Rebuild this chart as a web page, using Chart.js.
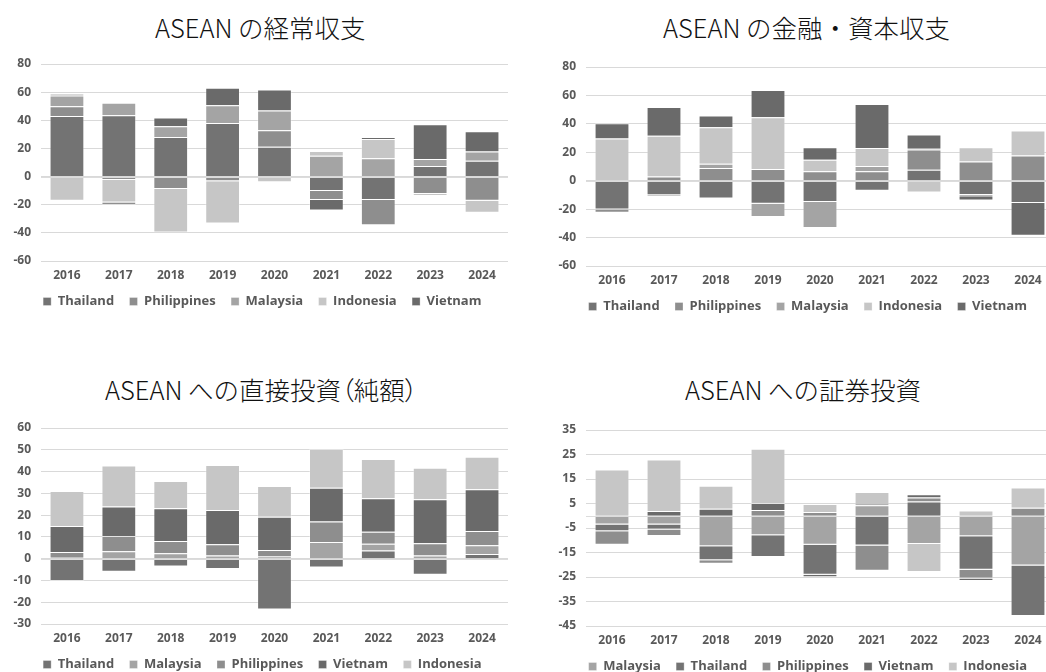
<!DOCTYPE html>
<html>
<head>
    <title>ASEAN 国際収支</title>
    <script src="https://cdn.jsdelivr.net/npm/chart.js"></script>
    <style>
        body {
            margin: 0;
            background: #fff;
            width: 1046px;
            height: 672px;
            overflow: hidden;
            position: relative;
        }
        .panel {
            position: absolute;
        }
        .title {
            position: absolute;
            font-family: "Noto Sans CJK JP", sans-serif;
            font-weight: 300;
            font-size: 25.5px;
            line-height: 30px;
            color: #111;
            white-space: nowrap;
        }
        .paren {
            font-feature-settings: "palt";
        }
    </style>
</head>
<body>
    <div class="title" style="left:155px; top:12px;">ASEAN の経常収支</div>
    <div class="title" style="left:663px; top:12px;">ASEAN の金融・資本収支</div>
    <div class="title" style="left:105px; top:374px;">ASEAN への直接投資<span class="paren">（</span>純額<span class="paren">）</span></div>
    <div class="title" style="left:685px; top:374px;">ASEAN への証券投資</div>

    <div class="panel" style="left:0; top:0;"><canvas id="caChart" width="520" height="318"></canvas></div>
    <div class="panel" style="left:545px; top:0;"><canvas id="faChart" width="521" height="323"></canvas></div>
    <div class="panel" style="left:0; top:360px;"><canvas id="fdiChart" width="520" height="321"></canvas></div>
    <div class="panel" style="left:545px; top:360px;"><canvas id="piChart" width="521" height="323"></canvas></div>

    <script>
        const years = ["2016", "2017", "2018", "2019", "2020", "2021", "2022", "2023", "2024"];

        // 経常収支
        const caThailand    = [43.1, 43.6, 28.1, 38.1, 21.2, -10.2, -16.7, 7.6, 11.2];
        const caPhilippines = [6.9, -2.4, -8.8, -3.3, 11.7, -6.4, -17.9, -12.4, -17.1];
        const caMalaysia    = [7.6, 8.8, 7.6, 12.6, 14.0, 14.8, 13.1, 4.8, 6.7];
        const caIndonesia   = [-17.1, -16.0, -31.0, -30.0, -4.0, 3.3, 13.6, -1.4, -8.6];
        const caVietnam     = [1.0, -1.7, 6.2, 12.4, 15.0, -7.6, 1.4, 24.8, 14.3];

        // 金融・資本収支
        const faThailand    = [-20.2, -10.2, -12.6, -16.2, -15.0, -7.1, 7.8, -10.0, -15.7];
        const faPhilippines = [-2.4, 2.9, 9.0, 8.3, 6.7, 6.7, 14.2, 13.5, 17.8];
        const faMalaysia    = [0, -1.0, 2.9, -9.3, -18.3, 3.6, 0.5, -1.0, 0];
        const faIndonesia   = [29.7, 28.7, 25.7, 36.3, 8.1, 12.8, -8.3, 10.0, 17.6];
        const faVietnam     = [10.7, 20.2, 8.3, 19.2, 8.8, 30.9, 10.0, -3.0, -23.0];

        // 直接投資（純額）
        const fdiThailand    = [-10.2, -6.0, -3.6, -4.8, -23.3, -4.0, 3.7, -7.4, 2.2];
        const fdiMalaysia    = [0.4, 3.4, 2.5, 1.5, 1.0, 7.6, 3.1, 1.5, 4.0];
        const fdiPhilippines = [2.7, 7.0, 5.6, 5.1, 3.0, 9.5, 5.6, 5.6, 6.5];
        const fdiVietnam     = [11.9, 13.6, 15.0, 15.8, 15.3, 15.5, 15.3, 20.2, 19.2];
        const fdiIndonesia   = [16.1, 18.8, 12.6, 20.6, 14.1, 17.7, 18.1, 14.4, 14.9];

        // 証券投資
        const piMalaysia    = [-3.6, -3.6, -12.4, -8.0, -11.8, 4.3, -11.5, -8.4, -20.3];
        const piThailand    = [-2.7, -2.0, -5.8, -8.8, -12.3, -12.1, 5.8, -13.6, -20.6];
        const piPhilippines = [-5.5, -2.7, -1.4, 2.3, 1.5, -10.3, 1.6, -3.6, 3.3];
        const piVietnam     = [0, 1.9, 2.9, 2.9, -1.0, 0.5, 1.4, -1.0, 0];
        const piIndonesia   = [18.9, 21.1, 9.3, 22.1, 3.3, 4.9, -11.5, 2.1, 8.2];

        const colors = {
            Thailand: "#737373",
            Philippines: "#8e8e8e",
            Malaysia: "#a4a4a4",
            Indonesia: "#c6c6c6",
            Vietnam: "#6a6a6a"
        };

        const labelFont = { family: "'Open Sans', sans-serif", size: 12, weight: "bold" };
        const textColor = "#595959";

        function series(name, values) {
            return {
                label: name,
                data: values,
                backgroundColor: colors[name],
                borderColor: "rgba(255, 255, 255, 0.3)",
                borderWidth: 1,
                borderSkipped: "start"
            };
        }

        // axis line at 0, drawn over the bars
        const zeroLine = {
            id: "zeroLine",
            afterDatasetsDraw(chart) {
                const y = Math.round(chart.scales.y.getPixelForValue(0)) + 0.5;
                const area = chart.chartArea;
                const ctx = chart.ctx;
                ctx.save();
                ctx.strokeStyle = "#dcdcdc";
                ctx.lineWidth = 1;
                ctx.beginPath();
                ctx.moveTo(area.left, y);
                ctx.lineTo(area.right, y);
                ctx.stroke();
                ctx.restore();
            }
        };

        // nudge the legend row sideways so it centres under the plot rather than the canvas
        const legendShift = {
            id: "legendShift",
            afterLayout(chart, args, opts) {
                chart.legend.left += opts.dx;
                chart.legend.right += opts.dx;
            }
        };

        // a little extra room after each legend entry
        function spacedLabels(chart) {
            return Chart.defaults.plugins.legend.labels.generateLabels(chart).map(item => {
                item.text = item.text + "\u00a0";
                return item;
            });
        }

        function makeChart(id, datasets, yMin, yMax, yStep, plotTop) {
            return new Chart(document.getElementById(id), {
                type: "bar",
                data: { labels: years, datasets: datasets },
                options: {
                    responsive: false,
                    animation: false,
                    devicePixelRatio: 1,
                    layout: { padding: { left: 0, right: 12, top: plotTop, bottom: 0 } },
                    datasets: { bar: { barPercentage: 1, categoryPercentage: 0.67 } },
                    plugins: {
                        legend: {
                            position: "bottom",
                            labels: {
                                boxWidth: 8,
                                boxHeight: 8,
                                padding: 12,
                                color: textColor,
                                font: { family: "'Open Sans', sans-serif", size: 13, weight: "bold" },
                                generateLabels: spacedLabels
                            }
                        },
                        legendShift: { dx: 10 },
                        tooltip: { enabled: false }
                    },
                    scales: {
                        x: {
                            stacked: true,
                            afterFit(scale) { scale.height = 22; },
                            grid: { display: false, drawTicks: false },
                            border: { display: false },
                            ticks: { color: textColor, font: labelFont, padding: 7 }
                        },
                        y: {
                            stacked: true,
                            min: yMin,
                            max: yMax,
                            afterFit(scale) { scale.width = 41; },
                            grid: { color: "#d9d9d9", drawTicks: false },
                            border: { display: false },
                            ticks: { stepSize: yStep, color: textColor, font: labelFont, padding: 10 }
                        }
                    }
                },
                plugins: [zeroLine, legendShift]
            });
        }

        makeChart("caChart", [
            series("Thailand", caThailand),
            series("Philippines", caPhilippines),
            series("Malaysia", caMalaysia),
            series("Indonesia", caIndonesia),
            series("Vietnam", caVietnam)
        ], -60, 80, 20, 64);

        makeChart("faChart", [
            series("Thailand", faThailand),
            series("Philippines", faPhilippines),
            series("Malaysia", faMalaysia),
            series("Indonesia", faIndonesia),
            series("Vietnam", faVietnam)
        ], -60, 80, 20, 67);

        makeChart("fdiChart", [
            series("Thailand", fdiThailand),
            series("Malaysia", fdiMalaysia),
            series("Philippines", fdiPhilippines),
            series("Vietnam", fdiVietnam),
            series("Indonesia", fdiIndonesia)
        ], -30, 60, 10, 68);

        makeChart("piChart", [
            series("Malaysia", piMalaysia),
            series("Thailand", piThailand),
            series("Philippines", piPhilippines),
            series("Vietnam", piVietnam),
            series("Indonesia", piIndonesia)
        ], -45, 35, 10, 70);
    </script>
</body>
</html>
